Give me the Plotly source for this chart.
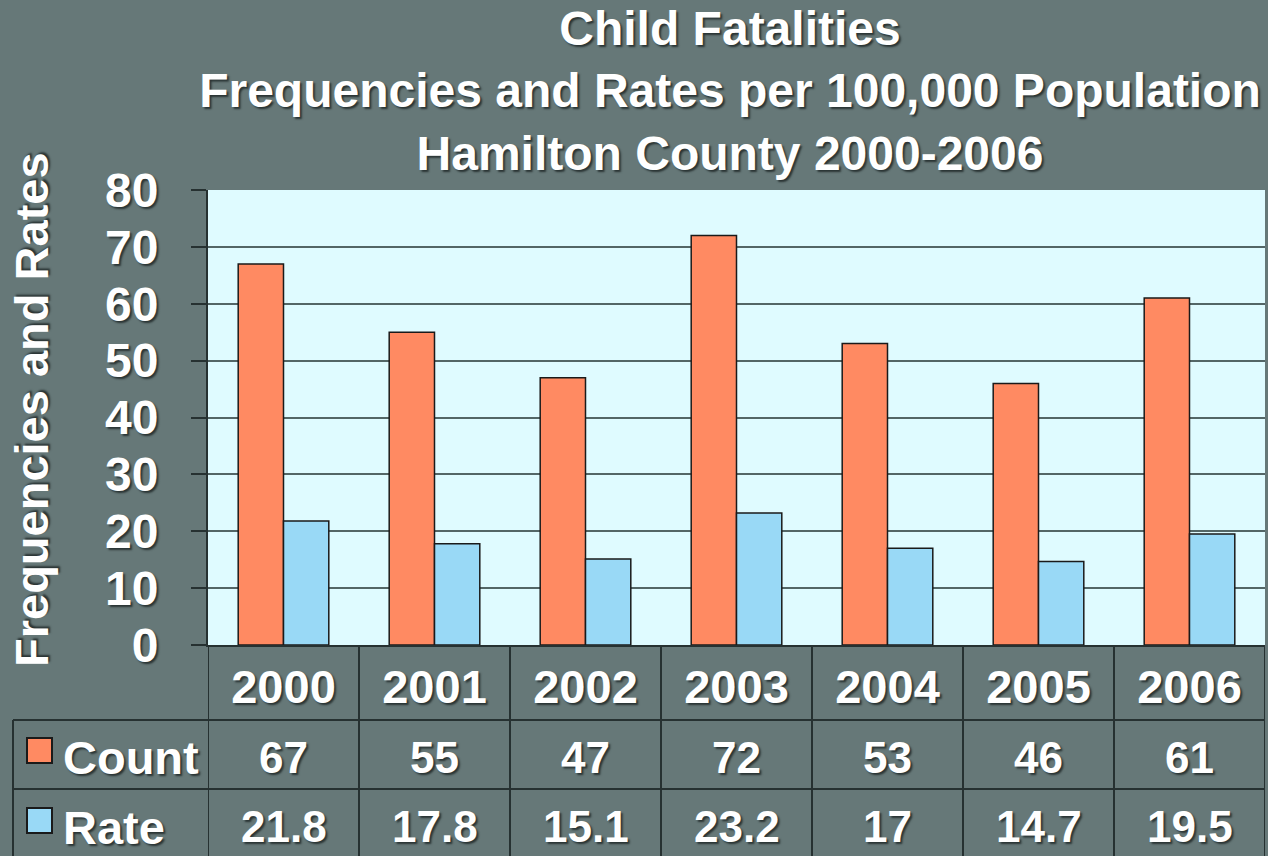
import plotly.graph_objects as go

# ---- data ----
years = ["2000", "2001", "2002", "2003", "2004", "2005", "2006"]
count = [67, 55, 47, 72, 53, 46, 61]
rate = [21.8, 17.8, 15.1, 23.2, 17, 14.7, 19.5]
count_labels = ["67", "55", "47", "72", "53", "46", "61"]
rate_labels = ["21.8", "17.8", "15.1", "23.2", "17", "14.7", "19.5"]
series_names = ["Count", "Rate"]
title_lines = ["Child Fatalities",
               "Frequencies and Rates per 100,000 Population",
               "Hamilton County 2000-2006"]
y_title = "Frequencies and Rates"
y_ticks = [0, 10, 20, 30, 40, 50, 60, 70, 80]

# ---- style ----
W, H = 1268, 856
BG = "#667878"
ORANGE = "#ff8a62"
BLUE = "#99d9f6"
PLOT = "#dffbff"
GRID = "#536666"
DARK = "#263131"
FONT = "Liberation Sans, Arial, sans-serif"
SHADOW = "2px 2px 2px #2a3434"


def px(p):
    return p / W


def py(p):
    return 1 - p / H


fig = go.Figure()
fig.add_bar(x=years, y=count, name=series_names[0],
            marker=dict(color=ORANGE, line=dict(color="#1a1a1a", width=1.5)))
fig.add_bar(x=years, y=rate, name=series_names[1],
            marker=dict(color=BLUE, line=dict(color="#1a1a1a", width=1.5)))

wfont = dict(family=FONT, color="white", weight="bold", shadow=SHADOW)

fig.update_layout(
    width=W, height=H, margin=dict(l=0, r=0, t=0, b=0, pad=0, autoexpand=False),
    paper_bgcolor=BG, plot_bgcolor=PLOT,
    barmode="group", bargap=0.4, bargroupgap=0,
    showlegend=False,
    title=dict(text="<br>".join(title_lines), x=px(730), xanchor="center",
               y=py(45), yanchor="middle", yref="container", automargin=False,
               font=dict(size=48, **wfont)),
    xaxis=dict(domain=[px(208), px(1265)], type="category", range=[-0.5, 6.5],
               showgrid=False, ticks="", ticklabelstandoff=0, automargin=False,
               showline=True, linecolor=DARK, linewidth=2,
               tickfont=dict(size=47, **wfont)),
    yaxis=dict(domain=[py(645), py(190)], range=[0, 80], tickvals=y_ticks,
               ticks="outside", ticklen=15, tickwidth=2, tickcolor=DARK,
               showline=True, linecolor=DARK, linewidth=2, automargin=False,
               gridcolor=GRID, gridwidth=2, zeroline=False,
               ticklabelstandoff=23,
               tickfont=dict(size=48, **wfont)),
)

# y-axis title
fig.add_annotation(text=y_title, xref="paper", yref="paper", x=px(31), y=py(410),
                   xanchor="center", yanchor="middle", textangle=-90, showarrow=False,
                   font=dict(size=47, **wfont))

# data table lines
line_style = dict(color=DARK, width=2)
for y0 in (720, 789):
    fig.add_shape(type="line", xref="paper", yref="paper",
                  x0=px(13), x1=px(1265), y0=py(y0), y1=py(y0), line=line_style)
fig.add_shape(type="line", xref="paper", yref="paper",
              x0=px(13), x1=px(13), y0=py(720), y1=0, line=line_style)
for i in range(len(years) + 1):
    fig.add_shape(type="line", xref="x", yref="paper",
                  x0=i - 0.5, x1=i - 0.5, y0=py(645), y1=0, line=line_style)

# table values
for i in range(len(years)):
    fig.add_annotation(text=count_labels[i], x=i, xref="x", yref="paper", y=py(757),
                       yanchor="middle", showarrow=False, font=dict(size=44, **wfont))
    fig.add_annotation(text=rate_labels[i], x=i, xref="x", yref="paper", y=py(826),
                       yanchor="middle", showarrow=False, font=dict(size=44, **wfont))

# legend keys inside the table
for name, col, yc in ((series_names[0], ORANGE, 750), (series_names[1], BLUE, 820)):
    fig.add_shape(type="rect", xref="paper", yref="paper",
                  x0=px(27), x1=px(52), y0=py(yc - 12), y1=py(yc + 13),
                  fillcolor=col, line=dict(color="#1a1a1a", width=2))
    fig.add_annotation(text=name, xref="paper", yref="paper", x=px(61), y=py(yc + 7),
                       xanchor="left", yanchor="middle", showarrow=False,
                       font=dict(size=47, **wfont))

fig.write_html("out.html", config={"displayModeBar": False},
               post_script="document.body.style.margin='0';")
